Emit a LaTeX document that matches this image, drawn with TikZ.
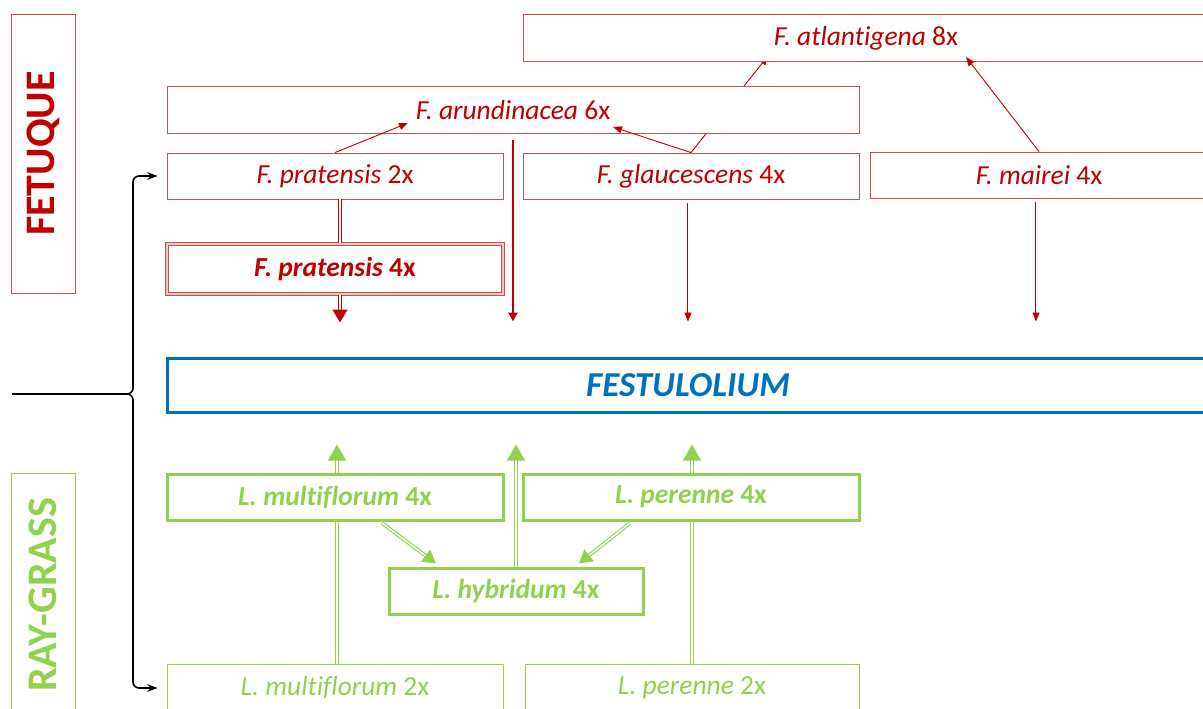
\documentclass[tikz,border=0pt]{standalone}
\usepackage{fontspec}
\setmainfont{Carlito}[Ligatures=NoCommon]
\usetikzlibrary{positioning, arrows.meta, backgrounds}
\definecolor{fetred}{RGB}{192,0,0}
\definecolor{boxred}{RGB}{196,84,82}
\definecolor{raygreen}{RGB}{146,208,80}
\definecolor{festblue}{RGB}{0,112,192}
\tikzset{
	>=Stealth,
	box/.style={fill=white, inner sep=0pt, minimum width=336pt, minimum height=46pt, font=\fontsize{27.5}{30}\selectfont},
	fbox/.style={box, draw=boxred, text=fetred, line width=0.9pt},
	fboxbold/.style={fbox, line width=1.2pt, double=boxred!35, double distance=1.4pt, font=\fontsize{27.5}{30}\selectfont\bfseries},
	lbox/.style={box, draw=raygreen, text=raygreen, line width=0.9pt},
	lboxbold/.style={lbox, line width=3pt, font=\fontsize{27.5}{30}\selectfont\bfseries},
	festbox/.style={box, draw=festblue, text=festblue, line width=3pt, font=\fontsize{35}{38}\selectfont\bfseries\itshape},
	label/.style={draw, fill=white, rotate=90, inner sep=0pt, minimum height=64pt, font=\fontsize{42}{42}\selectfont\bfseries},
	farrow/.style={draw=fetred, line width=0.9pt, -{Triangle[length=9pt, width=7pt]}},
	fdouble/.style={farrow, line width=1pt, double=white, double distance=1.4pt},
	fbig/.style={draw=fetred, line width=1.3pt, double=white, double distance=1.6pt, -{Triangle[length=13pt, width=15pt]}},
	lup/.style={draw=raygreen, line width=1.3pt, double=white, double distance=1.8pt, -{Triangle[length=16pt, width=18pt]}},
	ldiag/.style={lup, line width=1.1pt, double distance=1.4pt, -{Triangle[length=13pt, width=15pt]}},
	bracket/.style={draw=black, line width=1.6pt, rounded corners=6pt},
}
\begin{document}
\begin{tikzpicture}[x=1pt, y=-1pt]
	\useasboundingbox (0,0) rectangle (1203,709);
	\clip (0,0) rectangle (1203,709);

	% side labels
	\node[label, draw=boxred, text=fetred, minimum width=279pt] (fetuque) at (43,153.5) {FETUQUE};
	\node[label, draw=raygreen, text=raygreen, minimum width=244pt] (raygrass) at (43,595) {RAY-GRASS};

	% fetuques
	\node[fbox, minimum width=686pt, minimum height=47pt] (atl) at (866,38) {\textit{F. atlantigena} 8x};
	\node[fbox, minimum width=692pt, minimum height=47pt] (arund) at (513,110) {\textit{F. arundinacea} 6x};
	\node[fbox] (prat2) at (335,176) {\textit{F. pratensis} 2x};
	\node[fbox] (glau) at (691,176) {\textit{F. glaucescens} 4x};
	\node[fbox, minimum width=338pt] (mair) at (1039,175) {\textit{F. mairei} 4x};
	\node[fboxbold, minimum height=50pt] (prat4) at (335,269) {\textit{F. pratensis} 4x};

	% festulolium
	\node[festbox, minimum width=1042pt, minimum height=54pt] (fest) at (688,385) {FESTULOLIUM};

	% ray-grass
	\node[lboxbold] (mult4) at (335,497) {\textit{L. multiflorum} 4x};
	\node[lboxbold] (per4) at (691,497) {\textit{L. perenne} 4x};
	\node[lboxbold, minimum width=254pt, minimum height=46pt] (hyb) at (516,591) {\textit{L. hybridum} 4x};
	\node[lbox, minimum height=48pt] (mult2) at (335,688) {\textit{L. multiflorum} 2x};
	\node[lbox, minimum width=334pt, minimum height=48pt] (per2) at (692,688) {\textit{L. perenne} 2x};

	\coordinate (arundL) at (408,123);
	\coordinate (arundR) at (613,127);
	\coordinate (atlL) at (768,56);
	\coordinate (atlR) at (966,57);
	\coordinate (root) at (12,394);
	\coordinate (cusp) at (124,394);

	\begin{scope}[on background layer]
		\draw[farrow] (glau.north) -- (atlL);
		\draw[lup, shorten >=31pt] ([xshift=2pt]mult2.north) -- ([xshift=2pt]mult2.north |- fest.south);
		\draw[lup, shorten >=31pt] (per2.north) -- (per2.north |- fest.south);
	\end{scope}

	\draw[farrow] (prat2.north) -- (arundL);
	\draw[farrow] (glau.north) -- (arundR);
	\draw[farrow] (mair.north) -- (atlR);
	\draw[fdouble, -] ([xshift=5pt]prat2.south) -- ([xshift=5pt]prat4.north);
	\draw[fbig, shorten >=34pt] ([xshift=5pt]prat4.south) -- ([xshift=5pt]prat4.south |- fest.north);
	\draw[farrow, line width=2.4pt, -{Triangle[length=9pt, width=9pt]}, shorten <=6pt, shorten >=35pt] (arund.south) -- (arund.south |- fest.north);
	\draw[fdouble, line width=0.8pt, double distance=0.8pt, shorten <=4pt, shorten >=35pt] ([xshift=-3pt]glau.south) -- ([xshift=-3pt]glau.south |- fest.north);
	\draw[fdouble, line width=0.8pt, double distance=0.8pt, shorten <=4pt, shorten >=35pt] ([xshift=-3pt]mair.south) -- ([xshift=-3pt]mair.south |- fest.north);

	\draw[lup, shorten >=31pt] (hyb.north) -- (hyb.north |- fest.south);
	\draw[ldiag, shorten <=2pt, shorten >=5pt] ([xshift=45pt]mult4.south) -- ([xshift=-76pt]hyb.north);
	\draw[ldiag, shorten <=2pt, shorten >=5pt] ([xshift=-59pt]per4.south) -- ([xshift=59pt]hyb.north);

	% bracket
	\draw[bracket] (root) -- (cusp);
	\draw[bracket, ->, shorten >=9pt] (cusp) -- ++(9,0) |- (prat2.west);
	\draw[bracket, ->, shorten >=9pt] (cusp) -- ++(9,0) |- (mult2.west);
\end{tikzpicture}
\end{document}
